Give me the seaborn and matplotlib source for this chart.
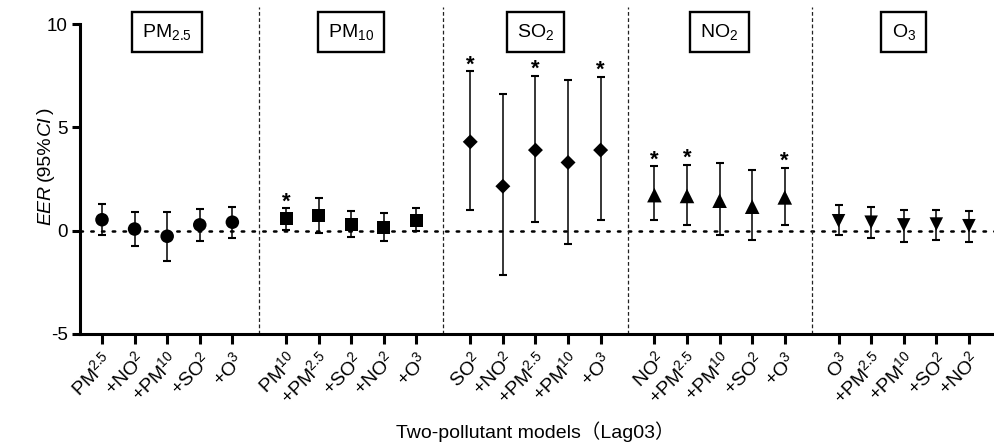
import re
import numpy as np
import pandas as pd
import matplotlib
matplotlib.use("Agg")
import matplotlib.pyplot as plt
import matplotlib.transforms as mtransforms
import seaborn as sns

# ---------------- data ----------------
groups = ["PM2.5", "PM10", "SO2", "NO2", "O3"]
group_titles = [r"$\mathregular{PM_{2.5}}$", r"$\mathregular{PM_{10}}$",
                r"$\mathregular{SO_{2}}$", r"$\mathregular{NO_{2}}$", r"$\mathregular{O_{3}}$"]

labels_pm25 = ["PM2.5", "+NO2", "+PM10", "+SO2", "+O3"]
labels_pm10 = ["PM10", "+PM2.5", "+SO2", "+NO2", "+O3"]
labels_so2 = ["SO2", "+NO2", "+PM2.5", "+PM10", "+O3"]
labels_no2 = ["NO2", "+PM2.5", "+PM10", "+SO2", "+O3"]
labels_o3 = ["O3", "+PM2.5", "+PM10", "+SO2", "+NO2"]

est_pm25 = [0.53, 0.08, -0.27, 0.28, 0.41]
lo_pm25 = [-0.19, -0.74, -1.45, -0.51, -0.37]
hi_pm25 = [1.29, 0.90, 0.89, 1.03, 1.14]

est_pm10 = [0.58, 0.74, 0.30, 0.17, 0.51]
lo_pm10 = [0.05, -0.10, -0.32, -0.52, -0.03]
hi_pm10 = [1.09, 1.59, 0.93, 0.87, 1.08]

est_so2 = [4.30, 2.15, 3.90, 3.30, 3.90]
lo_so2 = [1.00, -2.15, 0.40, -0.65, 0.50]
hi_so2 = [7.72, 6.60, 7.50, 7.30, 7.45]

est_no2 = [1.72, 1.68, 1.45, 1.16, 1.61]
lo_no2 = [0.50, 0.26, -0.21, -0.46, 0.29]
hi_no2 = [3.11, 3.20, 3.27, 2.95, 3.04]

est_o3 = [0.48, 0.41, 0.28, 0.32, 0.24]
lo_o3 = [-0.19, -0.34, -0.53, -0.45, -0.53]
hi_o3 = [1.24, 1.14, 1.01, 1.01, 0.94]

sig_pm25 = [0, 0, 0, 0, 0]
sig_pm10 = [1, 0, 0, 0, 0]
sig_so2 = [1, 0, 1, 0, 1]
sig_no2 = [1, 1, 0, 0, 1]
sig_o3 = [0, 0, 0, 0, 0]

all_labels = [labels_pm25, labels_pm10, labels_so2, labels_no2, labels_o3]
all_est = [est_pm25, est_pm10, est_so2, est_no2, est_o3]
all_lo = [lo_pm25, lo_pm10, lo_so2, lo_no2, lo_o3]
all_hi = [hi_pm25, hi_pm10, hi_so2, hi_no2, hi_o3]
all_sig = [sig_pm25, sig_pm10, sig_so2, sig_no2, sig_o3]

# ---------------- style ----------------
sns.set_theme(style="ticks")
plt.rcParams["font.family"] = ["Liberation Sans", "Noto Sans CJK SC"]
plt.rcParams.update({
    "mathtext.fontset": "custom",
    "mathtext.rm": "Liberation Sans",
    "mathtext.it": "Liberation Sans:italic",
    "mathtext.bf": "Liberation Sans:bold",
    "axes.edgecolor": "black",
    "text.color": "black",
    "xtick.color": "black",
    "ytick.color": "black",
    "axes.labelcolor": "black",
})

PERIOD = 5.65

rows = []
for g, grp in enumerate(groups):
    for i in range(5):
        rows.append(dict(group=grp, x=g * PERIOD + i, est=all_est[g][i],
                         lo=all_lo[g][i], hi=all_hi[g][i], sig=all_sig[g][i],
                         label=all_labels[g][i]))
df = pd.DataFrame(rows)


def tick_fmt(name):
    m = re.match(r"^(\+?[A-Z]+?)(\d+(?:\.\d+)?)$", name)
    base, num = m.group(1), m.group(2)
    return r"$\mathregular{" + base + "^{" + num + "}}$"


fig = plt.figure(figsize=(9.94, 4.48), dpi=100)
ax = fig.add_axes([80 / 994, 1 - 334 / 448, 1 - 80 / 994, (334 - 7.5) / 448])

# zero reference line
ax.axhline(0, color="black", lw=1.8, ls=(0, (1, 3.3)), dash_capstyle="round", zorder=1)

# group dividers
for g in range(len(groups) - 1):
    ax.axvline(g * PERIOD + 4 + (PERIOD - 4) / 2, color="#222222", lw=0.9,
               ls=(0, (3, 2)), zorder=1)

# error bars
ax.errorbar(df["x"], df["est"], yerr=[df["est"] - df["lo"], df["hi"] - df["est"]],
            fmt="none", ecolor="black", elinewidth=1.1, capsize=2.6, capthick=1.5, zorder=3)

# markers
marker_map = {"PM2.5": "o", "PM10": "s", "SO2": "D", "NO2": "^", "O3": "v"}
size_map = {"PM2.5": 95, "PM10": 90, "SO2": 58, "NO2": 110, "O3": 95}
sns.scatterplot(data=df, x="x", y="est", style="group", markers=marker_map,
                size="group", sizes=size_map, color="black", edgecolor="black",
                linewidth=0, legend=False, ax=ax, zorder=4)

# significance stars
for _, r in df[df["sig"] == 1].iterrows():
    ax.annotate("*", (r["x"], r["hi"]), xytext=(0, 0.5), textcoords="offset points",
                ha="center", va="baseline", fontsize=16, fontweight="bold")

# group title boxes
for g, title in enumerate(group_titles):
    ax.text(g * PERIOD + 2, 9.6, title, ha="center", va="center", fontsize=14,
            bbox=dict(boxstyle="square,pad=0.52", fc="white", ec="black", lw=1.7),
            clip_on=False, zorder=5)

ax.set_xlim(-0.675, 4 * PERIOD + 4 + 0.77)
ax.set_ylim(-5, 10.8)
ax.set_yticks([-5, 0, 5, 10])
ax.set_yticklabels(["-5", "0", "5", "10"])
ax.set_xticks(df["x"])
ax.set_xticklabels([tick_fmt(l) for l in df["label"]], rotation=45, ha="right",
                   rotation_mode="anchor", fontsize=14)
ax.tick_params(axis="x", length=7.5, width=2.2, pad=3)
ax.tick_params(axis="y", length=6, width=2.2, labelsize=13.5, pad=3)
ax.set_xlabel("")
ax.set_ylabel("")
ax.spines[["top", "right"]].set_visible(False)
ax.spines["left"].set_linewidth(2.2)
ax.spines["bottom"].set_linewidth(2.2)
ax.spines["left"].set_bounds(-5, 10)

# x label
fig.text(535 / 994, 1 - 432 / 448, "Two-pollutant models（Lag03）", ha="center",
         va="center", fontsize=14)

# y label built from pieces (italic / regular mix)
fig.canvas.draw()
renderer = fig.canvas.get_renderer()
pieces = [("EER", "italic", 4.0), ("(95%", "normal", 0.5),
          ("CI", "italic", 1.5), (")", "normal", 0.0)]
ident = mtransforms.IdentityTransform()
widths = []
for s, st, gap in pieces:
    t = fig.text(0, 0, s, fontsize=14, style=st, family="Liberation Sans", transform=ident)
    widths.append(t.get_window_extent(renderer).width + gap)
    t.remove()
pos = (448 - 166.5) - sum(widths) / 2
for (s, st, gap), w in zip(pieces, widths):
    fig.text(50, pos, s, fontsize=14, style=st, family="Liberation Sans", rotation=90,
             rotation_mode="anchor", ha="left", va="baseline", transform=ident)
    pos += w

fig.savefig("out.png", dpi=100)
